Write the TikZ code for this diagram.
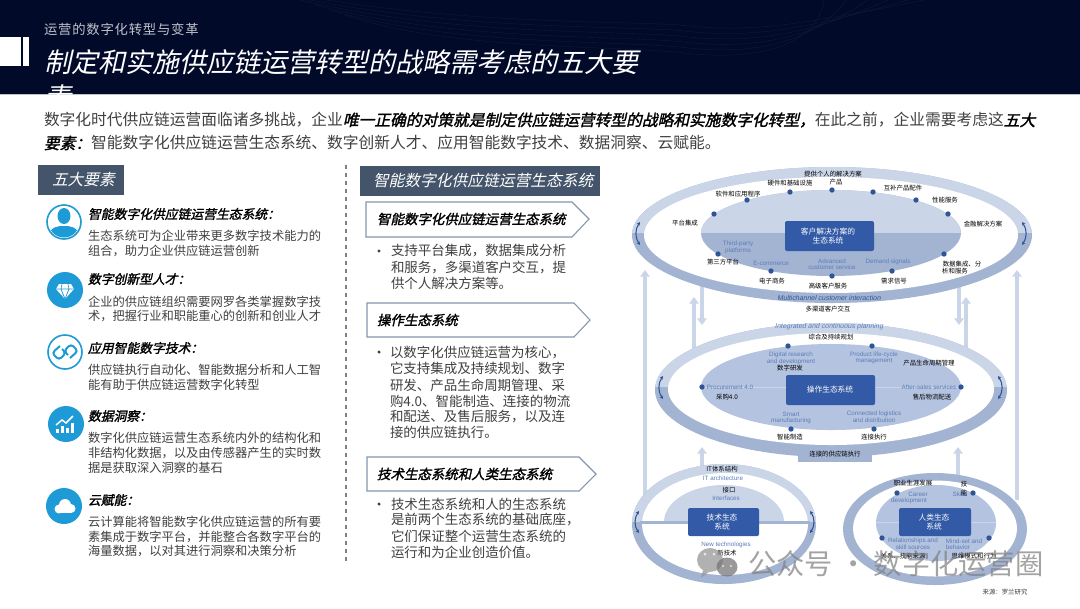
\documentclass[tikz,border=0pt]{standalone}
\usepackage{fontspec}
\usetikzlibrary{arrows.meta}
\setmainfont{Noto Sans CJK SC}
\newfontfamily\slantf[FakeSlant=0.22]{Noto Sans CJK SC}
\newfontfamily\headf[FakeSlant=0.22,FakeBold=1.6]{Noto Sans CJK SC}
\newfontfamily\spacedf[LetterSpace=6]{Noto Sans CJK SC}
\newfontfamily\latf{Liberation Sans}
\newfontfamily\latif[FakeSlant=0.2]{Liberation Sans}
\definecolor{navy}{HTML}{020A2A}
\definecolor{slatebox}{HTML}{44546A}
\definecolor{pale}{HTML}{CAD5E8}
\definecolor{mid}{HTML}{A3B4D3}
\definecolor{fillmid}{HTML}{B4C3DF}
\definecolor{royal}{HTML}{335AA6}
\definecolor{dotc}{HTML}{2F5597}
\definecolor{ltblue}{HTML}{5B7DB8}
\definecolor{icon}{HTML}{1E9BD7}
\definecolor{bodyc}{HTML}{404040}
\definecolor{penb}{HTML}{8497B0}
\tikzset{
  tx/.style={inner sep=0pt,outer sep=0pt,anchor=west,text=bodyc},
  body/.style={tx,font=\fontsize{9.2}{11}\selectfont},
  midbody/.style={tx,font=\fontsize{10.1}{12}\selectfont},
  intro/.style={tx,font=\fontsize{11.8}{14}\selectfont},
  introb/.style={tx,text=black,font=\fontsize{11.8}{14}\headf},
  head/.style={tx,text=black,font=\fontsize{9.6}{12}\headf},
  penh/.style={tx,text=black,font=\fontsize{10.1}{12}\headf},
  boxh/.style={tx,text=white,font=\fontsize{11.8}{14}\slantf},
  lab/.style={inner sep=0pt,outer sep=0pt,text=black,font=\fontsize{4.8}{6}\selectfont},
  blu/.style={inner sep=0pt,outer sep=0pt,text=ltblue,font=\fontsize{4.7}{6}\latf},
  bluit/.style={inner sep=0pt,outer sep=0pt,text=ltblue,font=\fontsize{5.2}{6}\latif},
  rectl/.style={inner sep=0pt,outer sep=0pt,text=white,font=\fontsize{5.8}{7}\selectfont},
  dotn/.style={circle,fill=dotc,inner sep=0pt,minimum size=4pt},
  flow/.style={line width=3pt,draw=pale},
  flowa/.style={flow,-{Triangle[width=7pt,length=5pt]}},
  swing/.style={draw=dotc,line width=.8pt,{Stealth[length=2.5pt,width=2.5pt]}-{Stealth[length=2.5pt,width=2.5pt]}},
  pent/.style={draw=penb,line width=.8pt,fill=white},
  ico/.style={circle,fill=icon,inner sep=0pt,minimum size=27pt},
  icor/.style={circle,draw=icon,line width=1.2pt,fill=white,inner sep=0pt,minimum size=25.5pt},
}
\newcommand\halfell[7]{% cx cy rx ry split top bottom
  \fill[#7] (#1,#2) ellipse ({#3} and {#4});
  \begin{scope}\clip (#1,#2) ellipse ({#3} and {#4});
  \fill[#6] ({#1-#3},{#2-#4}) rectangle ({#1+#3},#5);\end{scope}}
\begin{document}
\begin{tikzpicture}[x=0.75pt,y=-0.75pt]
\useasboundingbox (0,0) rectangle (1080,608);
\fill[white] (0,0) rectangle (1080,608);
% header
\fill[navy] (0,0) rectangle (1080,94);
\draw[white!75!navy,line width=.8pt] (0,94.5) -- (1080,94.5);
\begin{scope}
\clip (0,0) rectangle (1080,94);
\foreach \d in {0,5,10,15,20,25}{
  \draw[navy!94!white,line width=.3pt] ({270+3*\d},{-10+\d}) .. controls (450,{25+\d}) and (600,{20+\d}) .. (680,{25+1.1*\d}) .. controls (760,{35+1.1*\d}) and (820,{20+\d}) .. ({950-5*\d},-5);
}
\end{scope}
\fill[white] (0,37) rectangle (21,66);
\fill[white] (23,37) rectangle (29,66);
\node[tx,text=white!75!navy,font=\fontsize{10}{12}\spacedf] (sub) at (44,29) {运营的数字化转型与变革};
\begin{scope}
\clip (0,0) rectangle (1080,94);
\node[tx,text=white,font=\fontsize{20.25}{24}\slantf] (title1) at (44,62) {制定和实施供应链运营转型的战略需考虑的五大要};
\node[tx,text=white,font=\fontsize{20.25}{24}\slantf] (title2) at (44,97) {素};
\end{scope}
% intro
\node[intro] (i1a) at (44,120) {数字化时代供应链运营面临诸多挑战，企业};
\node[introb,anchor=west] (i1b) at (i1a.east) {唯一正确的对策就是制定供应链运营转型的战略和实施数字化转型，};
\node[intro,anchor=west] (i1c) at (i1b.east) {在此之前，企业需要考虑这};
\node[introb,anchor=west] (i1d) at (i1c.east) {五大};
\node[introb] (i2a) at (44,143) {要素：};
\node[intro,anchor=west] (i2b) at (i2a.east) {智能数字化供应链运营生态系统、数字创新人才、应用智能数字技术、数据洞察、云赋能。};
% left panel
\fill[slatebox] (38,165) rectangle (124,195);
\node[tx,text=white,font=\fontsize{11.8}{14}\slantf] (five) at (52,180) {五大要素};
\draw[gray,dashed,line width=.9pt] (346,165) -- (346,563);
% icons
\node[icor] (ic1) at (64,222) {};
\begin{scope}
\clip (64,222) circle (15.5);
\fill[icon] (64,216) ellipse (6.5 and 8);
\fill[icon] (48,238) .. controls (50,226) and (58,226) .. (64,226) .. controls (70,226) and (78,226) .. (80,238) -- cycle;
\end{scope}
\node[ico] (ic2) at (65,290) {};
\fill[white] (59,284) -- (71,284) -- (74,289) -- (65,299) -- (56,289) -- cycle;
\draw[icon,line width=.5pt] (56,289) -- (74,289) (62,284) -- (61,289) -- (65,299) -- (69,289) -- (68,284);
\node[icor] (ic3) at (65,352) {};
\draw[icon,line width=1.5pt,rounded corners=2.5pt] (60,346) -- (52,353) -- (59,360) -- (66,353) -- (62,349);
\draw[icon,line width=1.5pt,rounded corners=2.5pt] (70,358) -- (78,351) -- (71,344) -- (64,351) -- (68,355);
\node[ico] (ic4) at (66,424) {};
\fill[white] (56,429) rectangle (59,433);
\fill[white] (61,426) rectangle (64,433);
\fill[white] (66,428) rectangle (69,433);
\fill[white] (71,423) rectangle (74,433);
\draw[white,line width=1.1pt] (56,425) -- (62,420) -- (66,423) -- (73,416);
\node[ico] (ic5) at (64,506) {};
\fill[white] (59,509) circle (4.5);
\fill[white] (65,505) circle (6);
\fill[white] (71,508.5) circle (4.5);
\fill[white] (59,509) rectangle (71,513);
% left texts
\node[head] (h1) at (88,214) {智能数字化供应链运营生态系统：};
\node[body] (b11) at (88,236) {生态系统可为企业带来更多数字技术能力的};
\node[body] (b12) at (88,251) {组合，助力企业供应链运营创新};
\node[head] (h2) at (88,279) {数字创新型人才：};
\node[body] (b21) at (88,302) {企业的供应链组织需要网罗各类掌握数字技};
\node[body] (b22) at (88,316) {术，把握行业和职能重心的创新和创业人才};
\node[head] (h3) at (88,348) {应用智能数字技术：};
\node[body] (b31) at (88,370) {供应链执行自动化、智能数据分析和人工智};
\node[body] (b32) at (88,385) {能有助于供应链运营数字化转型};
\node[head] (h4) at (88,416) {数据洞察：};
\node[body] (b41) at (88,438) {数字化供应链运营生态系统内外的结构化和};
\node[body] (b42) at (88,453) {非结构化数据，以及由传感器产生的实时数};
\node[body] (b43) at (88,468) {据是获取深入洞察的基石};
\node[head] (h5) at (88,500) {云赋能：};
\node[body] (b51) at (88,522) {云计算能将智能数字化供应链运营的所有要};
\node[body] (b52) at (88,537) {素集成于数字平台，并能整合各数字平台的};
\node[body] (b53) at (88,551) {海量数据，以对其进行洞察和决策分析};
% middle panel
\fill[slatebox] (360,166) rectangle (600,196);
\node[boxh] (mt) at (373,181) {智能数字化供应链运营生态系统};
\draw[pent] (366,202) -- (572,202) -- (589,219) -- (572,237) -- (366,237) -- cycle;
\node[penh] (p1) at (377,219) {智能数字化供应链运营生态系统};
\draw[pent] (367,303) -- (574,303) -- (590,320) -- (574,337) -- (367,337) -- cycle;
\node[penh] (p2) at (377,320) {操作生态系统};
\draw[pent] (367,457) -- (579,457) -- (596,474) -- (579,491) -- (367,491) -- cycle;
\node[penh] (p3) at (377,474) {技术生态系统和人类生态系统};
\foreach \n/\yy in {bu1/251,bu2/352,bu3/504}{
  \node[circle,fill=bodyc,inner sep=0pt,minimum size=2.6pt] (\n) at (379,\yy) {};
}
\node[midbody] (m11) at (391,251) {支持平台集成，数据集成分析};
\node[midbody] (m12) at (391,267) {和服务，多渠道客户交互，提};
\node[midbody] (m13) at (391,283) {供个人解决方案等。};
\node[midbody] (m21) at (390,352) {以数字化供应链运营为核心，};
\node[midbody] (m22) at (390,368) {它支持集成及持续规划、数字};
\node[midbody] (m23) at (390,385) {研发、产品生命周期管理、采};
\node[midbody] (m24) at (390,401) {购4.0、智能制造、连接的物流};
\node[midbody] (m25) at (390,417) {和配送、及售后服务，以及连};
\node[midbody] (m26) at (390,432) {接的供应链执行。};
\node[midbody] (m31) at (391,504) {技术生态系统和人的生态系统};
\node[midbody] (m32) at (391,520) {是前两个生态系统的基础底座，};
\node[midbody] (m33) at (391,536) {它们保证整个运营生态系统的};
\node[midbody] (m34) at (391,552) {运行和为企业创造价值。};
% flows
\coordinate (fa) at (645,500); \coordinate (fb) at (645,270);
\coordinate (fc) at (1017,500); \coordinate (fd) at (1017,270);
\draw[flowa] (fa) -- (fb);
\draw[flowa] (fc) -- (fd);
\coordinate (fe) at (694,350); \coordinate (ff) at (694,297);
\coordinate (fg) at (966,350); \coordinate (fh) at (966,297);
\draw[flowa] (fe) -- (ff);
\draw[flowa] (fg) -- (fh);
\coordinate (fi) at (702,285); \coordinate (fj) at (702,325);
\coordinate (fk) at (959,285); \coordinate (fl) at (959,325);
\draw[flowa] (fi) -- (fj);
\draw[flowa] (fk) -- (fl);
\coordinate (fm) at (702,470); \coordinate (fn) at (702,447);
\coordinate (fo) at (958,480); \coordinate (fp) at (958,447);
\draw[flowa] (fm) -- (fn);
\draw[flowa] (fo) -- (fp);
% top ring
\halfell{832}{235}{200}{68}{233}{pale}{mid}
\fill[white] (831,235) ellipse (187 and 58);
\halfell{831}{233}{130}{43}{233}{pale}{mid}
\node[rectangle,rounded corners=1.5pt,fill=royal,minimum width=66.75pt,minimum height=22.5pt,inner sep=0pt] (r1) at (829.5,236) {};
\node[rectl] (r1a) at (828,232) {客户解决方案的};
\node[rectl] (r1b) at (828,241) {生态系统};
\foreach \n/\p in {a1/{714,214},a2/{747,200},a3/{790,192},a4/{832,190},a5/{873,192},a6/{916,200},a7/{948,214},a8/{944,254},a9/{892,271},a10/{832,276},a11/{771,271},a12/{718,254}}{
  \node[dotn] (\n) at (\p) {};
}
\node[lab] (t1) at (833,174) {提供个人的解决方案};
\node[lab] (t2) at (790,183) {硬件和基础设施};
\node[lab] (t3) at (836,182) {产品};
\node[lab] (t4) at (903,188) {互补产品配件};
\node[lab] (t5) at (945,200) {性能服务};
\node[lab] (t6) at (983,224) {金融解决方案};
\node[lab] (t7) at (738,194) {软件和应用程序};
\node[lab] (t8) at (685,223) {平台集成};
\node[lab] (t9) at (723,262) {第三方平台};
\node[lab] (t10) at (772,281) {电子商务};
\node[lab] (t11) at (828,286) {高级客户服务};
\node[lab] (t12) at (894,281) {需求信号};
\node[lab] (t13) at (962,264) {数据集成、分};
\node[lab] (t14) at (955,271) {析和服务};
\node[lab] (t15) at (828,309) {多渠道客户交互};
\node[blu] (e1) at (738,244) {Third-party};
\node[blu] (e2) at (738,250.5) {platforms};
\node[blu] (e3) at (771,263) {E-commerce};
\node[blu] (e4) at (832,261) {Advanced};
\node[blu] (e5) at (832,267) {customer service};
\node[blu] (e6) at (888,262) {Demand signals};
\node[bluit,text=dotc] (e7) at (829,298) {Multichannel customer interaction};
\draw[swing] (640,222) to[bend right=35] (640,245);
\draw[swing] (1022,222) to[bend left=35] (1022,245);
% middle ring
\halfell{831}{390}{176}{67}{387}{pale}{mid}
\fill[white] (831,389) ellipse (163 and 56);
\fill[fillmid] (831,387) ellipse (130 and 43);
\draw[pale,line width=.4pt] (701,387) -- (961,387);
\fill[mid] (798,448) rectangle (872,462);
\node[rectangle,rounded corners=1.5pt,fill=royal,minimum width=66.75pt,minimum height=22.5pt,inner sep=0pt] (r2) at (830.5,390) {};
\node[rectl] (r2a) at (830,390) {操作生态系统};
\foreach \n/\p in {c1/{788,346},c2/{872,346},c3/{702,387},c4/{961,387},c5/{791,429},c6/{874,429}}{
  \node[dotn] (\n) at (\p) {};
}
\node[bluit] (g1) at (829,327) {Integrated and continuous planning};
\node[lab] (g2) at (831,337) {综合及持续规划};
\node[blu] (g3) at (791,355) {Digital research};
\node[blu] (g4) at (791,361.5) {and development};
\node[lab] (g5) at (790,368.5) {数字研发};
\node[blu] (g6) at (874,355) {Product life-cycle};
\node[blu] (g7) at (874,361.5) {management};
\node[lab] (g8) at (929,363) {产品生命周期管理};
\node[blu] (g9) at (730,387) {Procurement 4.0};
\node[lab] (g10) at (727,397) {采购4.0};
\node[blu] (g11) at (929,387) {After-sales services};
\node[lab] (g12) at (932,397) {售后物流配送};
\node[blu] (g13) at (791,414) {Smart};
\node[blu] (g14) at (791,420.5) {manufacturing};
\node[lab] (g15) at (790,437) {智能制造};
\node[blu] (g16) at (874,414) {Connected logistics};
\node[blu] (g17) at (874,420) {and distribution};
\node[lab] (g18) at (874,437) {连接执行};
\node[lab] (g19) at (835,454) {连接的供应链执行};
\draw[swing] (663,376) to[bend right=35] (663,399);
\draw[swing] (998,376) to[bend left=35] (998,399);
% bottom-left
\halfell{724}{524}{92}{60}{522}{pale}{mid}
\fill[white] (725,524) ellipse (83 and 51);
\begin{scope}
\clip (664,470) rectangle (784,522);
\fill[pale] (724,522) ellipse (60 and 37);
\end{scope}
\fill[mid] (640,520.5) rectangle (810,523.5);
\node[rectangle,rounded corners=1.5pt,fill=royal,minimum width=53.25pt,minimum height=21pt,inner sep=0pt] (r3) at (723.5,522) {};
\node[rectl] (r3a) at (722,518) {技术生态};
\node[rectl] (r3b) at (722,527) {系统};
\node[lab] (k1) at (722,469) {IT体系结构};
\node[blu] (k2) at (723,478) {IT architecture};
\node[lab] (k3) at (729,490) {接口};
\node[blu] (k4) at (726,498) {Interfaces};
\node[blu] (k5) at (726,545) {New technologies};
\node[lab] (k6) at (727,553) {新技术};
\draw[swing] (639,511) to[bend right=35] (639,533);
\draw[swing] (810,511) to[bend left=35] (810,533);
% bottom-right
\fill[mid] (935,529) ellipse (92 and 56);
\fill[white] (935,528.5) ellipse (82 and 48);
\fill[fillmid] (936,523) ellipse (60 and 38);
\draw[pale,line width=.4pt] (876,522) -- (996,522);
\node[rectangle,rounded corners=1.5pt,fill=royal,minimum width=54pt,minimum height=21pt,inner sep=0pt] (r4) at (935,522) {};
\node[rectl] (r4a) at (934,518) {人类生态};
\node[rectl] (r4b) at (934,527) {系统};
\foreach \n/\p in {d1/{897,493},d2/{973,493},d3/{882,538},d4/{989,538}}{
  \node[dotn] (\n) at (\p) {};
}
\node[lab] (n1) at (913,483) {职业生涯发展};
\node[blu] (n2) at (918,494) {Career};
\node[blu] (n3) at (909,501) {development};
\node[blu] (n4) at (960,494) {Skills};
\node[lab] (n5) at (964,484) {技};
\node[lab] (n6) at (964,493) {能};
\node[blu] (n7) at (913,541) {Relationships and};
\node[blu] (n8) at (913,547) {skill sources};
\node[blu] (n9) at (964,541) {Mind-set and};
\node[blu] (n10) at (958,547) {behavior};
\node[lab] (n11) at (903,556) {关系、技能来源};
\node[lab] (n12) at (974,556) {思维模式和行为};
\node[lab,text=bodyc] (src) at (1005,592) {来源：罗兰研究};
% watermark
\begin{scope}[opacity=.72]
\fill[gray!85] (710,560) ellipse (13 and 12);
\fill[gray!85] (703,570) -- (701,578) -- (709,572) -- cycle;
\fill[gray!110] (727,567) ellipse (10.5 and 9.5);
\fill[white] (705,554) circle (1.5);
\fill[white] (714,554) circle (1.5);
\fill[white] (723,566) circle (1.2);
\fill[white] (731,566) circle (1.2);
\node[tx,text=gray,font=\fontsize{21.2}{24}\selectfont] (wm) at (748,564) {公众号 · 数字化运营圈};
\end{scope}
\end{tikzpicture}
\end{document}
